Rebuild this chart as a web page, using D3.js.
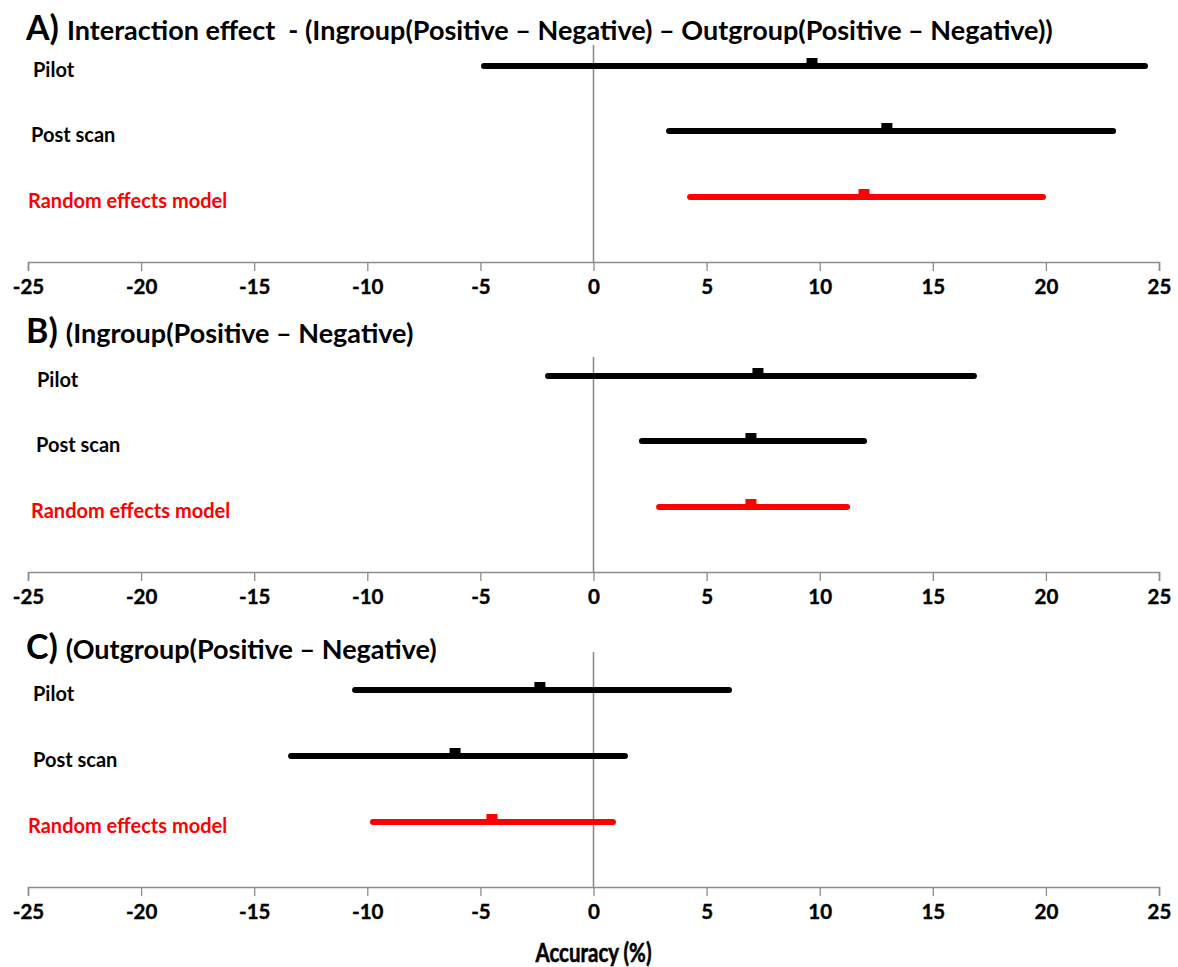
<!DOCTYPE html>
<html>
<head>
<meta charset="utf-8">
<script src="https://cdn.jsdelivr.net/npm/d3@7"></script>
<style>
  body { margin: 0; background: #fff; }
  svg text { font-family: Lato, "Open Sans", sans-serif; font-weight: bold; white-space: pre; }
</style>
</head>
<body>
<svg id="chart"></svg>
<script>
const width = 1178;
const height = 967;

// data
var rowNames = ["Pilot", "Post scan", "Random effects model"];
var tickValues = [-25, -20, -15, -10, -5, 0, 5, 10, 15, 20, 25];

var interactionMean = [9.66, 12.97, 11.96];
var interactionLow = [-4.84, 3.34, 4.27];
var interactionHigh = [24.38, 22.97, 19.87];

var ingroupMean = [7.27, 6.96, 6.96];
var ingroupLow = [-2.01, 2.14, 2.90];
var ingroupHigh = [16.82, 11.96, 11.21];

var outgroupMean = [-2.37, -6.12, -4.49];
var outgroupLow = [-10.54, -13.37, -9.75];
var outgroupHigh = [5.99, 1.39, 0.86];

var panelLetters = ["A)", "B)", "C)"];
var panelTitles = [
  "Interaction effect  - (Ingroup(Positive \u2013 Negative) \u2013 Outgroup(Positive \u2013 Negative))",
  "(Ingroup(Positive \u2013 Negative)",
  "(Outgroup(Positive \u2013 Negative)"
];

// layout of each panel
var panels = [
  { mean: interactionMean, low: interactionLow, high: interactionHigh,
    titleY: 40, top: 45, axisY: 262, rowY: [66, 131, 197], labelX: [33, 31, 28] },
  { mean: ingroupMean, low: ingroupLow, high: ingroupHigh,
    titleY: 343, top: 357, axisY: 572, rowY: [376, 441, 507], labelX: [37, 36, 31] },
  { mean: outgroupMean, low: outgroupLow, high: outgroupHigh,
    titleY: 659, top: 652, axisY: 887, rowY: [690, 756, 822], labelX: [33, 33, 28] }
];

var x = d3.scaleLinear().domain([-25, 25]).range([28, 1159]);
var rowColor = i => i === 2 ? "#ff0000" : "#000000";

var svg = d3.select("#chart")
  .attr("width", width)
  .attr("height", height);

panels.forEach(function(p, pi) {
  var g = svg.append("g");

  // title
  var title = g.append("text")
    .attr("x", 26)
    .attr("y", p.titleY)
    .attr("fill", "#000");
  title.append("tspan").style("font-size", "34px").text(panelLetters[pi]);
  title.append("tspan").attr("dx", 8).style("font-size", "27px").text(panelTitles[pi]);

  // axis
  var axis = g.append("g")
    .attr("transform", "translate(0," + p.axisY + ")")
    .call(d3.axisBottom(x).tickValues(tickValues).tickSize(9).tickPadding(8).tickFormat(d => String(d)));
  axis.select(".domain").attr("stroke", "#8c8c8c").attr("stroke-width", 1.6);
  axis.selectAll(".tick line").attr("stroke", "#8c8c8c").attr("stroke-width", 1.3);
  axis.selectAll(".tick text")
    .attr("fill", "#000")
    .attr("stroke", "#000")
    .attr("stroke-width", 0.4)
    .style("font-size", "20.5px")
    .style("font-family", "Lato, sans-serif")
    .style("font-weight", "bold");

  // zero line
  g.append("line")
    .attr("x1", x(0)).attr("x2", x(0))
    .attr("y1", p.top).attr("y2", p.axisY)
    .attr("stroke", "#8c8c8c")
    .attr("stroke-width", 1.6);

  // row labels
  g.selectAll(".rowlabel")
    .data(rowNames)
    .enter().append("text")
    .attr("class", "rowlabel")
    .attr("x", (d, i) => p.labelX[i])
    .attr("y", (d, i) => p.rowY[i] + 4)
    .attr("dy", "0.35em")
    .attr("fill", (d, i) => rowColor(i))
    .style("font-size", "20px")
    .text(d => d);

  // intervals
  g.selectAll(".ci")
    .data(rowNames)
    .enter().append("line")
    .attr("class", "ci")
    .attr("x1", (d, i) => x(p.low[i]))
    .attr("x2", (d, i) => x(p.high[i]))
    .attr("y1", (d, i) => p.rowY[i])
    .attr("y2", (d, i) => p.rowY[i])
    .attr("stroke", (d, i) => rowColor(i))
    .attr("stroke-width", 6)
    .attr("stroke-linecap", "round");

  // point estimates
  g.selectAll(".est")
    .data(rowNames)
    .enter().append("rect")
    .attr("class", "est")
    .attr("x", (d, i) => x(p.mean[i]) - 5.5)
    .attr("y", (d, i) => p.rowY[i] - 8)
    .attr("width", 11)
    .attr("height", 11)
    .attr("fill", (d, i) => rowColor(i));
});

svg.append("text")
  .attr("x", x(0))
  .attr("y", 962)
  .attr("text-anchor", "middle")
  .attr("fill", "#000")
  .attr("stroke", "#000")
  .attr("stroke-width", 0.6)
  .style("font-size", "27px")
  .attr("textLength", 116)
  .attr("lengthAdjust", "spacingAndGlyphs")
  .text("Accuracy (%)");
</script>
</body>
</html>
